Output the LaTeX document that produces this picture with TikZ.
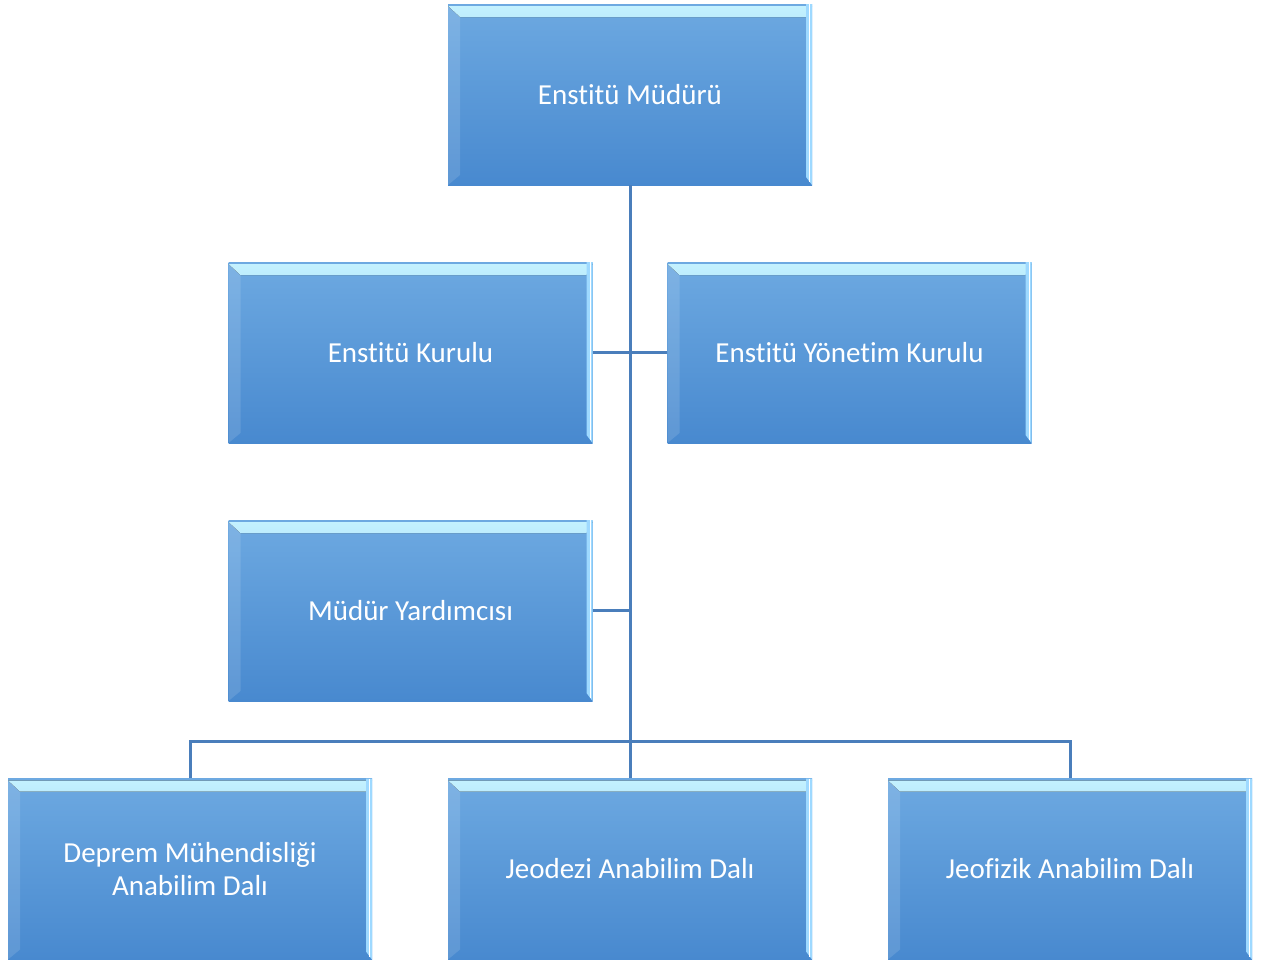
\documentclass[tikz,border=0pt]{standalone}
\usepackage{fontspec}
\setmainfont[Ligatures=NoCommon]{Carlito}
\usetikzlibrary{positioning}

\definecolor{boxtop}{HTML}{6DA9E1}
\definecolor{boxbot}{HTML}{4889CF}
\definecolor{bevlight}{HTML}{C4F2FF}
\definecolor{bevrim}{HTML}{9ED9FF}
\definecolor{linkblue}{HTML}{4A7EBB}

\tikzset{
    unit/.style={rectangle, minimum width=364pt, minimum height=181pt, inner sep=0pt,
        top color=boxtop, bottom color=boxbot, text=white, align=center,
        font=\fontsize{29}{33}\selectfont,
        path picture={
            % top bevel
            \fill[top color=bevlight, bottom color=boxtop]
                ([yshift=-2pt]path picture bounding box.north west) -- ([yshift=-2pt]path picture bounding box.north east)
                -- ([xshift=-6pt,yshift=-13pt]path picture bounding box.north east)
                -- ([xshift=12pt,yshift=-13pt]path picture bounding box.north west) -- cycle;
            % left bevel
            \fill[white, opacity=0.12]
                ([yshift=-2pt]path picture bounding box.north west)
                -- ([xshift=12pt,yshift=-13pt]path picture bounding box.north west)
                -- ([xshift=12pt,yshift=10pt]path picture bounding box.south west)
                -- (path picture bounding box.south west) -- cycle;
            % right bevel
            \fill[bevrim]
                ([xshift=-6pt]path picture bounding box.north east)
                -- (path picture bounding box.north east)
                -- (path picture bounding box.south east)
                -- ([xshift=-6pt,yshift=8pt]path picture bounding box.south east) -- cycle;
            \fill[white]
                ([xshift=-3pt]path picture bounding box.north east)
                rectangle ([xshift=-2pt,yshift=3pt]path picture bounding box.south east);
        }},
    link/.style={draw=linkblue, line width=3pt}
}

\begin{document}
\begin{tikzpicture}[x=1pt, y=-1pt]
    \useasboundingbox (0,0) rectangle (1263,961);

    % boxes
    \node[unit] (mudur) at (630,94.5) {Enstitü Müdürü};
    \node[unit] (kurul) at (410.5,352.5) {Enstitü Kurulu};
    \node[unit] (yonetim) at (849.5,352.5) {Enstitü Yönetim Kurulu};
    \node[unit] (yardimci) at (410.5,610.5) {Müdür Yardımcısı};
    \node[unit] (deprem) at (190,869) {Deprem Mühendisliği\\Anabilim Dalı};
    \node[unit] (jeodezi) at (630,869) {Jeodezi Anabilim Dalı};
    \node[unit] (jeofizik) at (1070,869) {Jeofizik Anabilim Dalı};

    \coordinate (bus) at (630,741);

    % connectors
    \draw[link] (mudur.south) -- (jeodezi.north);
    \draw[link] (kurul.east) -- (yonetim.west);
    \draw[link] (yardimci.east) -- (yardimci.east -| mudur.south);
    \draw[link] (deprem.north) |- (bus) -| (jeofizik.north);
\end{tikzpicture}
\end{document}
